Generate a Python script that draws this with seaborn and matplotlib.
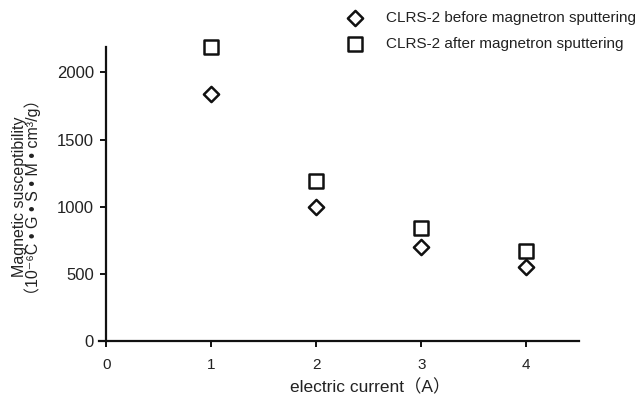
import numpy as np
import pandas as pd
import seaborn as sns
import matplotlib.pyplot as plt

current = [1, 2, 3, 4]
before = [1840, 1000, 700, 550]
after = [2190, 1190, 840, 670]
labels = ['CLRS-2 before magnetron sputtering', 'CLRS-2 after magnetron sputtering']

sns.set_theme(style='ticks')
plt.rcParams['font.family'] = ['Liberation Sans', 'DejaVu Sans', 'Noto Sans CJK SC']

fig = plt.figure(figsize=(6.43, 3.97), dpi=100)
ax = fig.add_axes([0.154, 0.141, 0.746, 0.741])

sns.scatterplot(ax=ax, x=current, y=before, marker='D', s=60, facecolor='white',
                edgecolor='#111111', linewidth=1.8, label=labels[0], clip_on=False, zorder=3)
sns.scatterplot(ax=ax, x=current, y=after, marker='s', s=95, facecolor='white',
                edgecolor='#111111', linewidth=1.8, label=labels[1], clip_on=False, zorder=3)

ax.set_xlim(-0.07, 4.5)
ax.set_ylim(0, 2190)
ax.set_xticks([0, 1, 2, 3, 4])
ax.set_yticks([0, 500, 1000, 1500, 2000])
ax.spines['left'].set_position(('data', 0))
ax.spines['top'].set_visible(False)
ax.spines['right'].set_visible(False)
for s in ['left', 'bottom']:
    ax.spines[s].set_linewidth(1.6)
    ax.spines[s].set_color('#111111')
ax.tick_params(axis='both', direction='out', length=4, width=1.4, color='#111111',
               labelcolor='#222222', pad=6)
ax.tick_params(axis='y', labelsize=12, pad=5)
ax.tick_params(axis='x', labelsize=11, pad=8)

ax.set_xlabel('electric current（A）', fontsize=12.5, color='#222222')
ax.xaxis.set_label_coords(0.565, -0.13)
ax.set_ylabel('Magnetic susceptibility\n（10⁻⁶C • G • S • M • cm³/g）',
              fontsize=11.5, color='#222222', linespacing=0.78)
ax.yaxis.set_label_coords(-0.122, 0.49)

ax.get_legend().remove()
h, l = ax.get_legend_handles_labels()
fig.legend(h, l, loc='upper left', bbox_to_anchor=(0.507, 1.006), frameon=False,
           fontsize=11, handletextpad=1.0, labelspacing=0.75, labelcolor='#222222')

fig.savefig('out.png', dpi=100)
